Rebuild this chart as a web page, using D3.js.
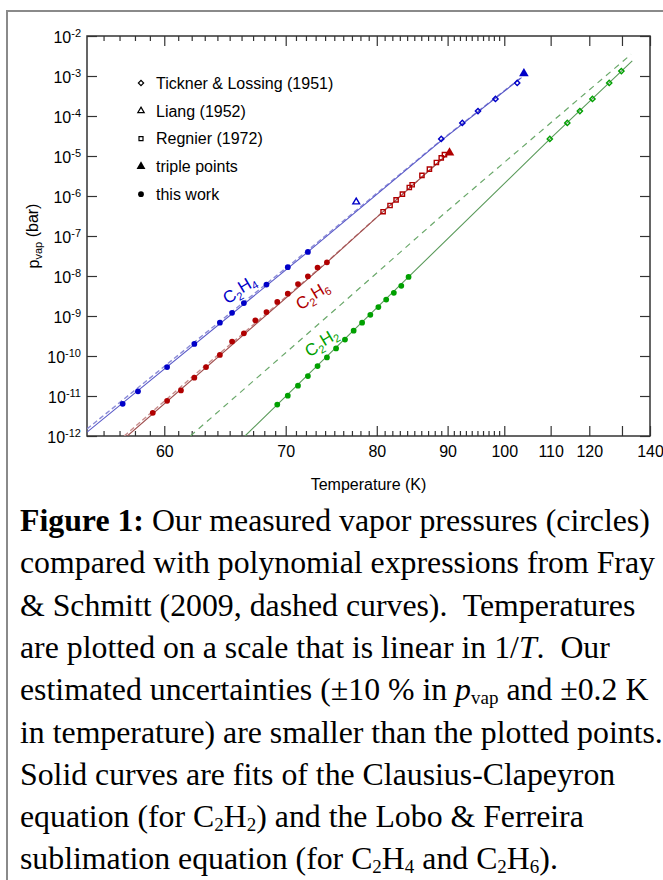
<!DOCTYPE html>
<html lang="en">
<head>
    <meta charset="UTF-8">
    <title>Vapor pressures of C2H2, C2H4 and C2H6</title>
    <script src="https://d3js.org/d3.v7.min.js"></script>
    <style>
        body { margin: 0; background: #fff; }
        svg text { font-family: "Liberation Sans", Arial, Helvetica, sans-serif; }
        .caption text { font-family: "Liberation Serif", "Times New Roman", serif; white-space: pre; }
    </style>
</head>
<body>
<svg width="663" height="880"></svg>
<script>

// ---- this work (filled circles)
const c2h4Temp = [57.2, 58.2, 60.2, 62.2, 64.2, 65.2, 66.2, 68.2, 70.2, 72.2];
const c2h4Pvap = [6.4e-12, 1.31e-11, 5.3e-11, 2.0e-10, 6.8e-10, 1.2e-9, 2.1e-9, 6.1e-9, 1.66e-8, 4.0e-8];
const c2h6Temp = [59.2, 60.2, 61.2, 62.2, 63.1, 64.2, 65.2, 66.2, 67.2, 68.2, 69.2, 70.2, 71.2, 72.2, 73.2, 74.2];
const c2h6Pvap = [3.8e-12, 7.6e-12, 1.38e-11, 2.87e-11, 5.3e-11, 1.06e-10, 2.3e-10, 3.7e-10, 7.8e-10, 1.25e-9, 2.25e-9, 3.6e-9, 6.3e-9, 9.8e-9, 1.62e-8, 2.2e-8];
const c2h2Temp = [69.2, 70.2, 71.2, 72.2, 73.2, 74.2, 75.2, 76.2, 77.2, 78.2, 79.2, 80.2, 81.2, 82.2, 83.2, 84.2];
const c2h2Pvap = [6.1e-12, 1.02e-11, 1.81e-11, 3.16e-11, 5.6e-11, 9.2e-11, 1.55e-10, 2.58e-10, 4.3e-10, 6.8e-10, 1.07e-9, 1.67e-9, 2.58e-9, 3.8e-9, 5.7e-9, 9.5e-9];

// ---- literature
const ticknerC2H4Temp = [89.0, 92.4, 95.1, 98.3, 102.6];
const ticknerC2H4Pvap = [2.67e-5, 6.7e-5, 1.33e-4, 2.67e-4, 6.7e-4];
const ticknerC2H2Temp = [109.8, 114.1, 117.4, 120.9, 125.9, 129.8];
const ticknerC2H2Pvap = [2.67e-5, 6.7e-5, 1.33e-4, 2.67e-4, 6.7e-4, 1.33e-3];
const liangTemp = [77.5];
const liangPvap = [7.1e-7];
const regnierTemp = [80.8, 81.7, 82.5, 83.35, 84.3, 84.7, 86.1, 87.2, 88.25, 89.0, 89.5];
const regnierPvap = [4.05e-7, 5.8e-7, 8.0e-7, 1.11e-6, 1.63e-6, 1.91e-6, 3.28e-6, 4.7e-6, 6.9e-6, 9.0e-6, 1.08e-5];
const tripleTemp = [104.0, 90.3];
const triplePvap = [1.15e-3, 1.2e-5];
const tripleColor = ['#0000c8', '#b00000'];

// ---- curves (nodes): fits (solid) and Fray & Schmitt (dashed)
const c2h4FitTemp = [55, 72.2, 89.0, 103.5];
const c2h4FitPvap = [1.25e-12, 4.0e-8, 2.43e-5, 9.1e-4];
const c2h4FrayTemp = [55, 72.2, 89.0, 103.5];
const c2h4FrayPvap = [1.5e-12, 4.4e-8, 2.5e-5, 9.3e-4];
const c2h6FitTemp = [57.5, 74.2, 80.8, 90.0];
const c2h6FitPvap = [1e-12, 2.19e-8, 4.05e-7, 1.12e-5];
const c2h6FrayTemp = [57.3, 62.7, 74.2, 80.8, 90.0];
const c2h6FrayPvap = [1e-12, 4.6e-11, 2.25e-8, 4.1e-7, 1.12e-5];
const c2h2FitTemp = [66.3, 84.2, 109.8, 133.5];
const c2h2FitPvap = [1e-12, 9.5e-9, 2.64e-5, 2.38e-3];
const c2h2FrayTemp = [61.9, 75.7, 88.9, 133.1];
const c2h2FrayPvap = [1e-12, 1.9e-9, 3.04e-7, 3.49e-3];

// ---- axes
const xMajorTicks = [60, 70, 80, 90, 100, 110, 120, 130, 140];
const xTickLabels = ['60', '70', '80', '90', '100', '110', '120', '', '140'];
const xMinorTicks = d3.range(56, 100).filter(t => t % 10 !== 0);
const yExponents = [-2, -3, -4, -5, -6, -7, -8, -9, -10, -11, -12];

const legendLabels = ['Tickner & Lossing (1951)', 'Liang (1952)', 'Regnier (1972)', 'triple points', 'this work'];

const svg = d3.select('svg');
const plotLeft = 87, plotRight = 650, plotTop = 36, plotBottom = 436;

const x = d3.scaleLinear().domain([1 / 55, 1 / 140]).range([plotLeft, plotRight]);
const y = d3.scaleLog().domain([1e-12, 1e-2]).range([plotBottom, plotTop]);
const px = t => x(1 / t);

// outer frame of the figure
svg.append('rect')
    .attr('x', 7).attr('y', 11).attr('width', 700).attr('height', 900)
    .attr('fill', 'none').attr('stroke', '#8a8a8a').attr('stroke-width', 2);

svg.append('clipPath').attr('id', 'plot-clip')
    .append('rect').attr('x', plotLeft).attr('y', plotTop)
    .attr('width', plotRight - plotLeft).attr('height', plotBottom - plotTop);

function styleAxis(g) {
    g.select('.domain').remove();
    g.selectAll('line').attr('stroke', '#333').attr('stroke-width', 1.2);
    g.selectAll('text').attr('font-size', 16).attr('fill', '#000')
        .attr('font-family', '"Liberation Sans", Arial, sans-serif');
}

// bottom
svg.append('g').attr('transform', `translate(0,${plotBottom})`)
    .call(d3.axisBottom(x).tickValues(xMajorTicks.map(t => 1 / t))
        .tickFormat((d, i) => xTickLabels[i]).tickSizeInner(-10).tickSizeOuter(0).tickPadding(10))
    .call(styleAxis);
svg.append('g').attr('transform', `translate(0,${plotBottom})`)
    .call(d3.axisBottom(x).tickValues(xMinorTicks.map(t => 1 / t))
        .tickFormat('').tickSizeInner(-5).tickSizeOuter(0))
    .call(styleAxis);
// top
svg.append('g').attr('transform', `translate(0,${plotTop})`)
    .call(d3.axisTop(x).tickValues(xMajorTicks.map(t => 1 / t))
        .tickFormat('').tickSizeInner(-10).tickSizeOuter(0))
    .call(styleAxis);
svg.append('g').attr('transform', `translate(0,${plotTop})`)
    .call(d3.axisTop(x).tickValues(xMinorTicks.map(t => 1 / t))
        .tickFormat('').tickSizeInner(-5).tickSizeOuter(0))
    .call(styleAxis);
// left with 10^n labels
const gy = svg.append('g').attr('transform', `translate(${plotLeft},0)`)
    .call(d3.axisLeft(y).tickValues(yExponents.map(e => Math.pow(10, e)))
        .tickFormat('').tickSizeInner(-10).tickSizeOuter(0).tickPadding(6))
    .call(styleAxis);
gy.selectAll('.tick text').each(function (d, i) {
    const t = d3.select(this).attr('dy', '0.42em');
    t.append('tspan').text('10');
    t.append('tspan').attr('dy', '-0.55em').attr('font-size', 11).text(yExponents[i]);
});
// right
svg.append('g').attr('transform', `translate(${plotRight},0)`)
    .call(d3.axisRight(y).tickValues(yExponents.map(e => Math.pow(10, e)))
        .tickFormat('').tickSizeInner(-10).tickSizeOuter(0))
    .call(styleAxis);

svg.append('rect')
    .attr('x', plotLeft).attr('y', plotTop).attr('width', plotRight - plotLeft).attr('height', plotBottom - plotTop)
    .attr('fill', 'none').attr('stroke', '#333').attr('stroke-width', 1.5);

// axis titles
svg.append('text').attr('x', (plotLeft + plotRight) / 2).attr('y', 490)
    .attr('text-anchor', 'middle').attr('font-size', 16).text('Temperature (K)');
const yl = svg.append('text').attr('transform', 'translate(39,236) rotate(-90)')
    .attr('text-anchor', 'middle').attr('font-size', 16);
yl.append('tspan').text('p');
yl.append('tspan').attr('dy', '0.3em').attr('font-size', 11).text('vap');
yl.append('tspan').attr('dy', '-0.3em').text(' (bar)');

// curves
const line = d3.line().x(d => px(d[0])).y(d => y(d[1]));
const curves = [
    { t: c2h4FrayTemp, p: c2h4FrayPvap, color: '#8c8cd8', dash: '5,3', w: 1.4 },
    { t: c2h4FitTemp, p: c2h4FitPvap, color: '#5a5ac8', dash: null, w: 1.1 },
    { t: c2h6FrayTemp, p: c2h6FrayPvap, color: '#c88c8c', dash: '5,3', w: 1.4 },
    { t: c2h6FitTemp, p: c2h6FitPvap, color: '#a05050', dash: null, w: 1.1 },
    { t: c2h2FrayTemp, p: c2h2FrayPvap, color: '#6aa86a', dash: '6,5', w: 1.2 },
    { t: c2h2FitTemp, p: c2h2FitPvap, color: '#5a9a5a', dash: null, w: 1.1 }
];
const gc = svg.append('g').attr('clip-path', 'url(#plot-clip)');
curves.forEach(c => {
    gc.append('path').datum(d3.zip(c.t, c.p)).attr('d', line)
        .attr('fill', 'none').attr('stroke', c.color).attr('stroke-width', c.w)
        .attr('stroke-dasharray', c.dash);
});

// markers
function drawPoints(temps, pvaps, type, size, color, filled, rot) {
    svg.append('g').selectAll('path').data(d3.zip(temps, pvaps)).join('path')
        .attr('transform', d => `translate(${px(d[0])},${y(d[1])})` + (rot ? ` rotate(${rot})` : ''))
        .attr('d', d3.symbol().type(type).size(size))
        .attr('fill', filled ? color : 'none')
        .attr('stroke', filled ? 'none' : color)
        .attr('stroke-width', 1.4);
}
drawPoints(c2h4Temp, c2h4Pvap, d3.symbolCircle, 26, '#0000c8', true);
drawPoints(c2h6Temp, c2h6Pvap, d3.symbolCircle, 26, '#b00000', true);
drawPoints(c2h2Temp, c2h2Pvap, d3.symbolCircle, 26, '#00a000', true);
drawPoints(ticknerC2H4Temp, ticknerC2H4Pvap, d3.symbolSquare, 14, '#0000c8', false, 45);
drawPoints(ticknerC2H2Temp, ticknerC2H2Pvap, d3.symbolSquare, 14, '#00a000', false, 45);
drawPoints(liangTemp, liangPvap, d3.symbolTriangle, 20, '#0000c8', false);
drawPoints(regnierTemp, regnierPvap, d3.symbolSquare, 18, '#b00000', false);
tripleTemp.forEach((t, i) => drawPoints([t], [triplePvap[i]], d3.symbolTriangle, 40, tripleColor[i], true));

// species labels
const species = [
    { sub: ['C', '2', 'H', '4'], x: 240, y: 290, color: '#0000c8' },
    { sub: ['C', '2', 'H', '6'], x: 313, y: 296, color: '#b00000' },
    { sub: ['C', '2', 'H', '2'], x: 322, y: 343, color: '#00a000' }
];
species.forEach(s => {
    const t = svg.append('text').attr('transform', `translate(${s.x},${s.y}) rotate(-31)`)
        .attr('text-anchor', 'middle').attr('dy', '0.35em').attr('font-size', 17).attr('fill', s.color);
    t.append('tspan').text(s.sub[0]);
    t.append('tspan').attr('dy', '0.3em').attr('font-size', 11).text(s.sub[1]);
    t.append('tspan').attr('dy', '-0.3em').text(s.sub[2]);
    t.append('tspan').attr('dy', '0.3em').attr('font-size', 11).text(s.sub[3]);
});

// legend
const legendSymbols = [
    { type: d3.symbolSquare, size: 14, fill: false, rot: 45 },
    { type: d3.symbolTriangle, size: 18, fill: false },
    { type: d3.symbolSquare, size: 16, fill: false },
    { type: d3.symbolTriangle, size: 34, fill: true },
    { type: d3.symbolCircle, size: 26, fill: true }
];
const lg = svg.append('g').selectAll('g').data(legendLabels).join('g')
    .attr('transform', (d, i) => `translate(141,${83 + i * 27.8})`);
lg.append('path')
    .attr('d', (d, i) => d3.symbol().type(legendSymbols[i].type).size(legendSymbols[i].size)())
    .attr('transform', (d, i) => legendSymbols[i].rot ? `rotate(${legendSymbols[i].rot})` : null)
    .attr('fill', (d, i) => legendSymbols[i].fill ? '#000' : 'none')
    .attr('stroke', (d, i) => legendSymbols[i].fill ? 'none' : '#000')
    .attr('stroke-width', 1.2);
lg.append('text').attr('x', 15).attr('y', 5.8).attr('font-size', 16).text(d => d);

// caption
const captionLines = [
    [{ t: 'Figure 1:', b: true }, { t: ' Our measured vapor pressures (circles)' }],
    [{ t: 'compared with polynomial expressions from Fray' }],
    [{ t: '& Schmitt (2009, dashed curves).  Temperatures' }],
    [{ t: 'are plotted on a scale that is linear in 1/' }, { t: 'T', i: true }, { t: '.  Our' }],
    [{ t: 'estimated uncertainties (±10 % in ' }, { t: 'p', i: true }, { t: 'vap', sub: true }, { t: ' and ±0.2 K' }],
    [{ t: 'in temperature) are smaller than the plotted points.' }],
    [{ t: 'Solid curves are fits of the Clausius-Clapeyron' }],
    [{ t: 'equation (for C' }, { t: '2', sub: true }, { t: 'H' }, { t: '2', sub: true }, { t: ') and the Lobo & Ferreira' }],
    [{ t: 'sublimation equation (for C' }, { t: '2', sub: true }, { t: 'H' }, { t: '4', sub: true }, { t: ' and C' },
        { t: '2', sub: true }, { t: 'H' }, { t: '6', sub: true }, { t: ').' }]
];
const cap = svg.append('g').attr('class', 'caption');
captionLines.forEach((segs, li) => {
    const t = cap.append('text').attr('x', 20).attr('y', 531 + li * 42.3)
        .attr('font-size', 31.8).attr('fill', '#000');
    let down = false;
    segs.forEach(s => {
        const sp = t.append('tspan').text(s.t);
        if (s.b) sp.attr('font-weight', 'bold');
        if (s.i) sp.attr('font-style', 'italic');
        if (s.sub) { sp.attr('font-size', 19).attr('dy', down ? null : 4); down = true; }
        else if (down) { sp.attr('dy', -4); down = false; }
    });
});

</script>
</body>
</html>
